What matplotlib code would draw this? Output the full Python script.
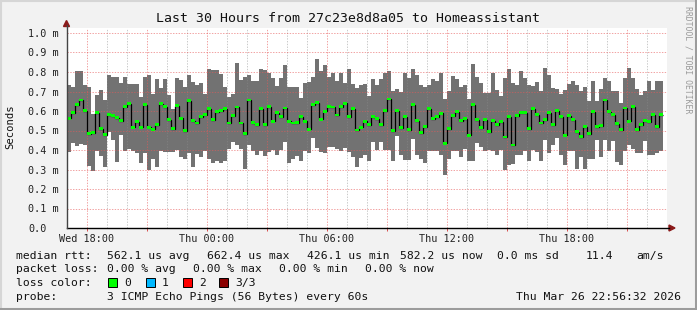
import matplotlib
matplotlib.use("Agg")
import matplotlib.pyplot as plt
from matplotlib.patches import Rectangle, Polygon
import numpy as np

# ---------------- data (milliseconds) ----------------
rtt_max = [
    0.735, 0.723, 0.807, 0.807, 0.735, 0.723, 0.586, 0.684, 0.710, 0.655,
    0.786, 0.773, 0.776, 0.745, 0.776, 0.740, 0.737, 0.737, 0.670, 0.776,
    0.786, 0.689, 0.763, 0.716, 0.766, 0.684, 0.612, 0.771, 0.761, 0.723,
    0.786, 0.750, 0.733, 0.744, 0.689, 0.817, 0.809, 0.812, 0.790, 0.725,
    0.674, 0.687, 0.848, 0.761, 0.776, 0.783, 0.754, 0.752, 0.817, 0.810,
    0.797, 0.769, 0.728, 0.769, 0.838, 0.725, 0.725, 0.725, 0.667, 0.744,
    0.749, 0.773, 0.868, 0.804, 0.838, 0.776, 0.793, 0.756, 0.793, 0.745,
    0.817, 0.740, 0.718, 0.732, 0.740, 0.677, 0.766, 0.735, 0.766, 0.797,
    0.807, 0.704, 0.711, 0.699, 0.797, 0.769, 0.817, 0.786, 0.735, 0.725,
    0.735, 0.763, 0.752, 0.797, 0.660, 0.701, 0.781, 0.766, 0.725, 0.732,
    0.660, 0.843, 0.776, 0.745, 0.691, 0.694, 0.795, 0.708, 0.679, 0.769,
    0.814, 0.745, 0.735, 0.807, 0.769, 0.735, 0.728, 0.749, 0.704, 0.821,
    0.783, 0.718, 0.715, 0.687, 0.709, 0.739, 0.756, 0.735, 0.704, 0.725,
    0.653, 0.756, 0.653, 0.715, 0.771, 0.752, 0.704, 0.701, 0.639, 0.769,
    0.821, 0.769, 0.715, 0.684, 0.701, 0.752, 0.709, 0.752, 0.756,
]
rtt_median = [
    0.562, 0.592, 0.633, 0.655, 0.602, 0.484, 0.489, 0.592, 0.509, 0.479,
    0.581, 0.576, 0.564, 0.551, 0.622, 0.638, 0.516, 0.545, 0.516, 0.633,
    0.516, 0.506, 0.527, 0.638, 0.622, 0.556, 0.509, 0.627, 0.562, 0.499,
    0.653, 0.551, 0.537, 0.571, 0.580, 0.612, 0.556, 0.597, 0.602, 0.609,
    0.537, 0.576, 0.619, 0.537, 0.484, 0.655, 0.540, 0.530, 0.609, 0.530,
    0.622, 0.547, 0.592, 0.568, 0.614, 0.547, 0.537, 0.540, 0.568, 0.547,
    0.506, 0.633, 0.643, 0.557, 0.598, 0.622, 0.619, 0.578, 0.622, 0.639,
    0.568, 0.612, 0.501, 0.516, 0.547, 0.530, 0.571, 0.561, 0.530, 0.602,
    0.660, 0.499, 0.602, 0.515, 0.571, 0.504, 0.633, 0.551, 0.489, 0.520,
    0.612, 0.561, 0.571, 0.588, 0.434, 0.509, 0.576, 0.597, 0.551, 0.561,
    0.475, 0.633, 0.556, 0.515, 0.556, 0.494, 0.551, 0.530, 0.545, 0.465,
    0.568, 0.424, 0.576, 0.592, 0.592, 0.509, 0.612, 0.581, 0.537, 0.556,
    0.592, 0.530, 0.602, 0.568, 0.475, 0.576, 0.556, 0.494, 0.468, 0.520,
    0.484, 0.597, 0.520, 0.525, 0.655, 0.597, 0.581, 0.535, 0.504, 0.614,
    0.547, 0.622, 0.504, 0.530, 0.551, 0.545, 0.581, 0.520, 0.581,
]
rtt_min = [
    0.390, 0.436, 0.422, 0.431, 0.424, 0.316, 0.291, 0.393, 0.368, 0.311,
    0.491, 0.453, 0.340, 0.479, 0.397, 0.407, 0.393, 0.385, 0.332, 0.383,
    0.296, 0.354, 0.311, 0.397, 0.388, 0.388, 0.388, 0.398, 0.363, 0.352,
    0.383, 0.311, 0.380, 0.363, 0.393, 0.352, 0.332, 0.345, 0.332, 0.342,
    0.405, 0.439, 0.427, 0.405, 0.304, 0.427, 0.397, 0.376, 0.393, 0.368,
    0.390, 0.402, 0.373, 0.398, 0.441, 0.332, 0.354, 0.371, 0.345, 0.397,
    0.383, 0.462, 0.410, 0.390, 0.385, 0.415, 0.415, 0.407, 0.393, 0.410,
    0.390, 0.363, 0.311, 0.357, 0.376, 0.342, 0.439, 0.398, 0.439, 0.398,
    0.398, 0.342, 0.474, 0.373, 0.347, 0.347, 0.458, 0.376, 0.352, 0.332,
    0.393, 0.393, 0.393, 0.376, 0.274, 0.352, 0.393, 0.393, 0.363, 0.407,
    0.342, 0.342, 0.438, 0.415, 0.393, 0.398, 0.393, 0.373, 0.398, 0.296,
    0.321, 0.330, 0.376, 0.376, 0.397, 0.342, 0.398, 0.390, 0.342, 0.453,
    0.383, 0.427, 0.462, 0.376, 0.321, 0.393, 0.393, 0.304, 0.363, 0.304,
    0.352, 0.352, 0.453, 0.363, 0.451, 0.393, 0.448, 0.337, 0.321, 0.393,
    0.427, 0.407, 0.383, 0.383, 0.448, 0.373, 0.373, 0.383, 0.393,
]
bar_hours = 0.2  # one step = 12 minutes; x axis in hours since Wed 17:00
x_tick_hours = [1, 4, 7, 10, 13, 16, 19, 22, 25, 28]
x_tick_labels = ["Wed 18:00", "", "Thu 00:00", "", "Thu 06:00", "",
                 "Thu 12:00", "", "Thu 18:00", ""]
y_ticks = [0.0, 0.1, 0.2, 0.3, 0.4, 0.5, 0.6, 0.7, 0.8, 0.9, 1.0]
y_tick_labels = ["0.0", "0.1 m", "0.2 m", "0.3 m", "0.4 m", "0.5 m",
                 "0.6 m", "0.7 m", "0.8 m", "0.9 m", "1.0 m"]
title = "Last 30 Hours from 27c23e8d8a05 to Homeassistant"
legend_rtt = [("median rtt:", 16), ("562.1 us avg", 107), ("662.4 us max", 207),
              ("426.1 us min", 307), ("582.2 us now", 400), ("0.0 ms sd", 497),
              ("11.4", 586), ("am/s", 636)]
legend_loss = [("packet loss:", 16), ("0.00 % avg", 107), ("0.00 % max", 193),
               ("0.00 % min", 279), ("0.00 % now", 365)]
loss_colors = [("0", "#00ff00", 108), ("1", "#00b8ff", 146), ("2", "#ff0000", 183),
               ("3/3", "#8b0000", 219)]
probe_text = "3 ICMP Echo Pings (56 Bytes) every 60s"
date_text = "Thu Mar 26 22:56:32 2026"

# ---------------- figure ----------------
W, H = 697, 310
BG = "#f2f2f2"
MONO = "DejaVu Sans Mono"
plt.rcParams["lines.scale_dashes"] = False

fig = plt.figure(figsize=(W / 100, H / 100), dpi=100, facecolor=BG)


def fx(x):
    return x / W


def fy(y):
    return 1 - y / H


ax = fig.add_axes([fx(67), fy(228), 600 / W, 200 / H])
ax.set_facecolor("white")
ax.set_xlim(0, 30)
ax.set_ylim(0, 200 / 195)

n = len(rtt_max)
x_left = np.arange(n) * bar_hours
mx = np.array(rtt_max)
md = np.array(rtt_median)
mn = np.array(rtt_min)

ax.bar(x_left, mx - mn, bottom=mn, width=bar_hours, align="edge",
       color="#727272", linewidth=0, zorder=1)
edges = np.append(x_left, x_left[-1] + bar_hours)
ax.stairs(md, edges, baseline=None, color="black", linewidth=0.9, zorder=4)
ax.bar(x_left, 0.015, bottom=md - 0.006, width=bar_hours, align="edge",
       color="#00ff00", linewidth=0, zorder=5)

# grid
dots = (0, (1.0, 1.0))
for h in range(0, 31):
    if (h - 1) % 3 == 0:
        ax.axvline(h, color=(0.9, 0.35, 0.35, 0.55), lw=0.72, ls=dots, zorder=3)
    else:
        ax.axvline(h, color=(0.55, 0.55, 0.55, 0.45), lw=0.72, ls=dots, zorder=3)
for v in y_ticks[1:]:
    ax.axhline(v, color=(0.9, 0.35, 0.35, 0.55), lw=0.72, ls=dots, zorder=3)

for s in ax.spines.values():
    s.set_visible(False)

ax.set_xticks(x_tick_hours)
ax.set_xticklabels(x_tick_labels, fontfamily=MONO, fontsize=7.3, color="#222222")
ax.tick_params(axis="x", length=2, width=0.7, color=(0.85, 0.3, 0.3), pad=2.2)
ax.set_yticks(y_ticks)
ax.set_yticklabels(y_tick_labels, fontfamily=MONO, fontsize=7.3, color="#222222")
ax.tick_params(axis="y", length=0, pad=28.1)
for lab in ax.get_yticklabels():
    lab.set_horizontalalignment("left")

# axis lines with arrows
fig.add_artist(plt.Line2D([fx(67), fx(669)], [fy(228), fy(228)], color="black", lw=1.0,
                          transform=fig.transFigure))
fig.add_artist(plt.Line2D([fx(66.5), fx(66.5)], [fy(228), fy(25)], color="#444444", lw=1.0,
                          transform=fig.transFigure))
fig.add_artist(Polygon([[fx(66.5), fy(20.5)], [fx(63.5), fy(26.5)], [fx(69.5), fy(26.5)]],
                       closed=True, color="#8b1a1a", transform=fig.transFigure))
fig.add_artist(Polygon([[fx(675), fy(228)], [fx(669), fy(225)], [fx(669), fy(231)]],
                       closed=True, color="#8b1a1a", transform=fig.transFigure))

# titles
fig.text(fx(348), fy(19), title, fontfamily=MONO, fontsize=9.5, ha="center",
         va="center", color="#111111")
fig.text(fx(10), fy(127), "Seconds", fontfamily=MONO, fontsize=7.6, rotation=90,
         ha="center", va="center", color="#111111")
fig.text(fx(688), fy(60), "RRDTOOL / TOBI OETIKER", fontfamily=MONO, fontsize=5.9,
         rotation=270, ha="center", va="center", color="#9a9a9a")

# legend
FS = 8.2
for txt, x in legend_rtt:
    fig.text(fx(x), fy(259), txt, fontfamily=MONO, fontsize=FS, ha="left",
             va="baseline", color="#111111")
for txt, x in legend_loss:
    fig.text(fx(x), fy(272.5), txt, fontfamily=MONO, fontsize=FS, ha="left",
             va="baseline", color="#111111")
fig.text(fx(16), fy(286), "loss color:", fontfamily=MONO, fontsize=FS, ha="left",
         va="baseline", color="#111111")
for lbl, col, x in loss_colors:
    fig.add_artist(Rectangle((fx(x), fy(287)), 9 / W, 9 / H, facecolor=col,
                             edgecolor="black", lw=0.7, transform=fig.transFigure))
    fig.text(fx(x + 16), fy(286), lbl, fontfamily=MONO, fontsize=FS, ha="left",
             va="baseline", color="#111111")
fig.text(fx(16), fy(300), "probe:", fontfamily=MONO, fontsize=FS, ha="left",
         va="baseline", color="#111111")
fig.text(fx(107), fy(300), probe_text, fontfamily=MONO, fontsize=FS, ha="left",
         va="baseline", color="#111111")
fig.text(fx(681), fy(300), date_text, fontfamily=MONO, fontsize=FS, ha="right",
         va="baseline", color="#111111")

# 3D style border
fig.add_artist(plt.Line2D([0, 1], [fy(1), fy(1)], color="#d6d6d6", lw=1.5,
                          transform=fig.transFigure))
fig.add_artist(plt.Line2D([fx(1), fx(1)], [0, 1], color="#d6d6d6", lw=1.5,
                          transform=fig.transFigure))
fig.add_artist(plt.Line2D([fx(695.5), fx(695.5)], [0, 1], color="#9c9c9c", lw=2.2,
                          transform=fig.transFigure))
fig.add_artist(plt.Line2D([0, 1], [fy(308.5), fy(308.5)], color="#9c9c9c", lw=2.2,
                          transform=fig.transFigure))

fig.savefig("out.png", dpi=100, facecolor=BG)
